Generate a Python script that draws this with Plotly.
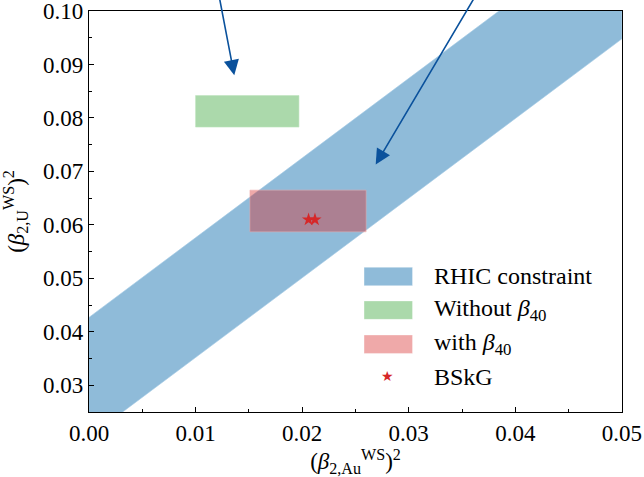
import plotly.graph_objects as go

# RHIC constraint band: lower and upper edges, linear in (beta_2,Au)^2
band_x = [0.0, 0.05]
band_lower = [0.0203, 0.0948]
band_upper = [0.0427, 0.1172]

# Rectangular regions [x0, x1] x [y0, y1]
without_b40_x = [0.0100, 0.0197]
without_b40_y = [0.0783, 0.0842]
with_b40_x = [0.0151, 0.0260]
with_b40_y = [0.0587, 0.0665]

# BSkG predictions
bskg_x = [0.0206, 0.0212]
bskg_y = [0.0610, 0.0610]

# Arrows (tail -> tip)
arrow_tails = [(0.01190, 0.106), (0.03720, 0.106)]
arrow_tips = [(0.01363, 0.0880), (0.0269, 0.0713)]

# Legend entries
legend_labels = ["RHIC constraint", "Without <i>β</i><sub>40</sub>",
                 "with <i>β</i><sub>40</sub>", "BSkG"]

FONT = "Liberation Serif"

BLUE_FILL = "rgba(31,119,180,0.5)"
GREEN_FILL = "rgba(44,160,44,0.4)"
RED_FILL = "rgba(214,39,40,0.4)"
STAR_RED = "#d62728"


def rect(xr, yr):
    return [xr[0], xr[1], xr[1], xr[0], xr[0]], [yr[0], yr[0], yr[1], yr[1], yr[0]]


fig = go.Figure()

bx = [band_x[0], band_x[1], band_x[1], band_x[0], band_x[0]]
by = [band_lower[0], band_lower[1], band_upper[1], band_upper[0], band_lower[0]]
fig.add_trace(go.Scatter(x=bx, y=by, fill="toself", mode="lines",
                         line=dict(width=1, color="rgba(160,200,228,0.6)"),
                         fillcolor=BLUE_FILL, name="RHIC constraint", showlegend=False))

gx, gy = rect(without_b40_x, without_b40_y)
fig.add_trace(go.Scatter(x=gx, y=gy, fill="toself", mode="lines",
                         line=dict(width=1, color="rgba(190,228,190,0.6)"),
                         fillcolor=GREEN_FILL, name="Without β40", showlegend=False))

rx, ry = rect(with_b40_x, with_b40_y)
fig.add_trace(go.Scatter(x=rx, y=ry, fill="toself", mode="lines",
                         line=dict(width=1, color="rgba(240,170,170,0.5)"),
                         fillcolor=RED_FILL, name="with β40", showlegend=False))

fig.add_trace(go.Scatter(x=bskg_x, y=bskg_y, mode="markers",
                         marker=dict(symbol="star", size=10, color=STAR_RED,
                                     line=dict(width=0)),
                         name="BSkG", showlegend=False))

for (tx, ty), (hx, hy) in zip(arrow_tails, arrow_tips):
    fig.add_annotation(x=hx, y=hy, ax=tx, ay=ty, xref="x", yref="y",
                       axref="x", ayref="y", text="", showarrow=True,
                       arrowhead=2, arrowsize=1.9, arrowwidth=1.6,
                       arrowcolor="#0a519c")

# Legend in axes-fraction coordinates: patch swatches + labels
patch_x = (0.516, 0.607)
label_x = 0.643
rows_y = [0.338, 0.254, 0.169, 0.088]
patch_h = 0.046
for fill, yc in zip([BLUE_FILL, GREEN_FILL, RED_FILL], rows_y[:3]):
    fig.add_shape(type="rect", xref="x domain", yref="y domain",
                  x0=patch_x[0], x1=patch_x[1], y0=yc - patch_h / 2, y1=yc + patch_h / 2,
                  fillcolor=fill, line=dict(width=1, color="rgba(255,255,255,0.35)"))
fig.add_annotation(xref="x domain", yref="y domain", x=0.560, y=rows_y[3],
                   text="★", showarrow=False, font=dict(size=14, color=STAR_RED),
                   xanchor="center", yanchor="middle")
for lab, yc in zip(legend_labels, rows_y):
    fig.add_annotation(xref="x domain", yref="y domain", x=label_x, y=yc,
                       text=lab, showarrow=False, xanchor="left", yanchor="middle",
                       font=dict(family=FONT, size=24, color="black"))

axis_common = dict(showline=True, linecolor="black", linewidth=1.3, mirror=True,
                   ticks="inside", ticklen=5, tickwidth=1, tickcolor="black",
                   showgrid=False, zeroline=False, automargin=False,
                   ticklabeloverflow="allow",
                   tickfont=dict(family=FONT, size=23, color="black"))

fig.update_xaxes(range=[0, 0.05001], dtick=0.01, tick0=0, tickformat=".2f",
                 minor=dict(dtick=0.005, ticks="inside", ticklen=3, tickcolor="black"),
                 title=dict(text="(<i>β</i><sub>2,Au</sub><sup>WS</sup>)<sup>2</sup>",
                            font=dict(family=FONT, size=23, color="black"), standoff=2),
                 **axis_common)
fig.update_yaxes(range=[0.025, 0.10001], dtick=0.01, tick0=0, tickformat=".2f",
                 minor=dict(dtick=0.005, ticks="inside", ticklen=3, tickcolor="black"),
                 title=dict(text="(<i>β</i><sub>2,U</sub><sup>WS</sup>)<sup>2</sup>",
                            font=dict(family=FONT, size=23, color="black"), standoff=16),
                 **axis_common)

fig.update_layout(
    width=644, height=477,
    margin=dict(l=89, r=22, t=11, b=65),
    paper_bgcolor="white", plot_bgcolor="white",
    font=dict(family=FONT, size=23, color="black"),
    showlegend=False,
)

fig.write_html("out.html")
